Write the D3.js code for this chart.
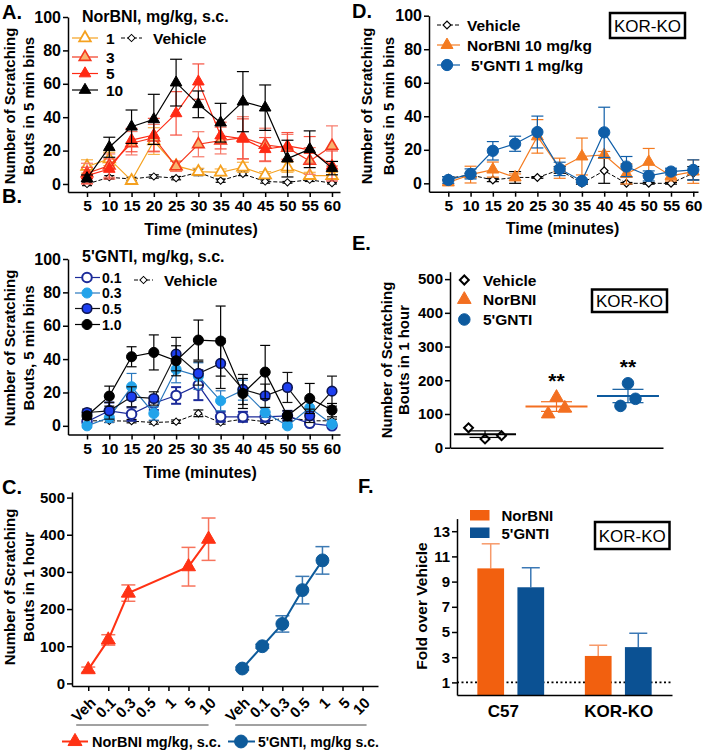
<!DOCTYPE html>
<html><head><meta charset="utf-8">
<script src="https://cdn.jsdelivr.net/npm/d3@7"></script>
<style>
body{margin:0;background:#fff}
</style></head><body>
<svg id="c" width="703" height="750" xmlns="http://www.w3.org/2000/svg"></svg>
<script>
// ---------------- DATA ----------------
const times=[5,10,15,20,25,30,35,40,45,50,55,60];
const yTicks100=[0,20,40,60,80,100];

// Panel A: NorBNI time course (mg/kg, s.c.)
const aVeh    =[0,4,3,4.5,3.5,7,2,6,1.5,1,2.5,0.5];
const aVehErr =[1,1,1,1,1,2,1,1,1,0.5,1,0.5];
const aNor1   =[10.5,15,2,25.7,10.8,7.4,7,10,5.4,10,5,5];
const aNor1Err=[4,4,1,8,3,2,2,3,2,3,2,2];
const aNor3   =[6.4,11,24.4,27.7,10.5,23.8,26,27.7,23.4,21.7,13.8,22.8];
const aNor3Err=[6,7,7,8,3,7.5,8,12.6,10,8,8,12];
const aNor5   =[5,9,26.3,29.3,42.3,61.3,29,27,20.8,22.8,20.4,10.8];
const aNor5Err=[5,6,7,10,13,10.6,8,12,7,8,8,9];
const aNor10  =[3.4,22,34.3,38.7,60.7,47.7,36.7,49.3,45.7,15.2,20.8,9.5];
const aNor10Err=[2,6,10,15,14,8,11.6,18,13.6,11,11,4];

// Panel B: 5'GNTI time course (mg/kg, s.c.)
const bVeh    =[3,3,2.8,2,2.5,7.5,2,4,2.5,5,3,3];
const bVehErr =[1,1,1,1,1,2,1,1,1,1,1,1];
const bG01    =[2.5,9,7,13.5,18.2,24.4,5.4,5.4,5.4,6,1.5,0];
const bG01Err =[2,5,4,4,5,9,3,3,3,3,1,1];
const bG03    =[0,5,23.4,7.4,33.8,29.8,15,21.4,8,0,10.8,1];
const bG03Err =[1,3,8,4,8,8,6,6,3,1,4,1];
const bG05    =[8,9,17.4,16.4,43,31.4,37.4,21.8,18,23,6,20.8];
const bG05Err =[2,5,6,4,10,7,15,9,7,9,4,9];
const bG10    =[6,17.8,41.4,44,39,51.4,50.8,19.4,32.2,6,16.4,9.4];
const bG10Err =[2,6,6,10.5,9,12,21,9,16,3,9,4];

// Panel C: total bouts in 1 hour, dose response
const cCats   =["Veh","0.1","0.3","0.5","1","5","10"];
const cNor    =[37,117,243,null,null,314,388];
const cNorErr =[7,14,22,null,null,52,57];
const cGnti   =[40,100,160,251,331,null,null];
const cGntiErr=[4,5,22,37,37,null,null];

// Panel D: KOR-KO time course
const dVeh    =[3,5,2,3.5,3.5,8,0,7.5,0,0,0,6];
const dVehErr =[1,1,1,3.5,0.5,2,0.5,7.5,0.5,0.5,0.5,4];
const dNor    =[0.5,5.2,8.2,3.6,28,9,16,17,5.6,12.8,4.4,7];
const dNorErr =[1,5,4.5,2,10,6,11,2,6,8,3,7];
const dGnti   =[2,5.6,19.4,23.6,30.6,8.6,1.4,30.4,10,4.4,7,8];
const dGntiErr=[2,3,5.5,4.5,9.5,4,1,15,6,3,2,6];

// Panel E: KOR-KO bouts in 1 hour (individual animals)
const eGroups =["Vehicle","NorBNI","5'GNTI"];
const eVeh    =[59,26,35.6];
const eNor    =[100,149,117];
const eGnti   =[124,191,145];
const eTicks  =[0,100,200,300,400,500];

// Panel F: fold over vehicle
const fGroups =["C57","KOR-KO"];
const fDrugs  =["NorBNI","5'GNTI"];
const fNor    =[10.05,3.1];
const fNorErr =[1.95,0.85];
const fGnti   =[8.55,3.8];
const fGntiErr=[1.55,1.1];
const fTicks  =[1,3,5,7,9,11,13];

// ---------------- DRAWING ----------------
const FONT='"Liberation Sans", Arial, Helvetica, sans-serif';
const svg=d3.select("#c");

function axisStyle(sel,fs){
  sel.attr("font-family",FONT).attr("font-size",fs).attr("font-weight","bold");
  sel.select(".domain").attr("stroke","#000").attr("stroke-width",1.5);
  sel.selectAll(".tick line").attr("stroke","#000").attr("stroke-width",1.5);
  sel.selectAll(".tick text").attr("fill","#000");
}
function text(g,x,y,s,o={}){
  return g.append("text").attr("x",x).attr("y",y).text(s)
    .attr("font-family",FONT).attr("font-size",o.fs||15).attr("font-weight",o.fw||"bold")
    .attr("text-anchor",o.anchor||"start").attr("dominant-baseline","central").attr("fill","#000");
}
function yTitle(g,bx1,bx2,yc,l1,l2,fs){
  const t=(bx,s)=>g.append("text").attr("transform",`translate(${bx},${yc}) rotate(-90)`).text(s)
    .attr("font-family",FONT).attr("font-size",fs).attr("font-weight","bold").attr("text-anchor","middle").attr("fill","#000");
  t(bx1,l1); if(l2) t(bx2,l2);
}
function symPath(st){
  const t={tri:d3.symbolTriangle,circle:d3.symbolCircle,diamond:d3.symbolSquare}[st.shape];
  return d3.symbol().type(t).size(st.size)();
}
function symbolAt(g,cx,cy,st){
  return g.append("path").attr("d",symPath(st))
    .attr("transform",`translate(${cx},${cy})${st.shape==='diamond'?' rotate(45)':''}`)
    .attr("fill",st.fill).attr("stroke",st.stroke).attr("stroke-width",st.sw||1);
}
function drawSeries(g,x,y,xs,vals,errs,st){
  const pts=xs.map((t,i)=>({t,v:vals[i],e:errs?errs[i]:null})).filter(d=>d.v!=null);
  const eg=g.append("g").attr("stroke",st.err||st.stroke).attr("stroke-width",st.ew||1.2).attr("fill","none");
  pts.forEach(d=>{
    if(d.e==null) return;
    const cx=x(d.t), y1=y(d.v-d.e), y2=y(d.v+d.e), c=st.cap||6;
    eg.append("line").attr("x1",cx).attr("x2",cx).attr("y1",y1).attr("y2",y2);
    eg.append("line").attr("x1",cx-c).attr("x2",cx+c).attr("y1",y2).attr("y2",y2);
    eg.append("line").attr("x1",cx-c).attr("x2",cx+c).attr("y1",y1).attr("y2",y1);
  });
  g.append("path").datum(pts).attr("d",d3.line().x(d=>x(d.t)).y(d=>y(d.v)))
    .attr("fill","none").attr("stroke",st.line||st.stroke).attr("stroke-width",st.lw||1.2)
    .attr("stroke-dasharray",st.dash||null);
  pts.forEach(d=>symbolAt(g,x(d.t),y(d.v),st));
}
function legendItem(g,cx,cy,x1,x2,st,label,tx,fs){
  if(x1!=null) g.append("line").attr("x1",x1).attr("x2",x2).attr("y1",cy).attr("y2",cy)
    .attr("stroke",st.line||st.stroke).attr("stroke-width",st.lw||1.2).attr("stroke-dasharray",st.dash||null);
  symbolAt(g,cx,cy,st);
  text(g,tx,cy,label,{fs:fs||15.5});
}
function korBox(g,x,y,w,h){
  g.append("rect").attr("x",x).attr("y",y).attr("width",w).attr("height",h)
    .attr("fill","#fff").attr("stroke","#000").attr("stroke-width",2.5);
  text(g,x+w/2,y+h/2+0.5,"KOR-KO",{fs:17,fw:"normal",anchor:"middle"});
}
function timeAxes(g,x,y,ax,ay){
  g.append("g").attr("transform",`translate(0,${ay})`)
    .call(d3.axisBottom(x).tickValues(times).tickSize(5).tickPadding(3).tickSizeOuter(0)).call(axisStyle,15.5);
  g.append("g").attr("transform",`translate(${ax},0)`)
    .call(d3.axisLeft(y).tickValues(yTicks100).tickSize(5).tickPadding(2).tickSizeOuter(0)).call(axisStyle,16);
}

// styles
const stVeh ={shape:'diamond',size:26,fill:'#fff',stroke:'#000',sw:1,line:'#000',lw:1,dash:'4,2',err:'#000',cap:5};
const stA1  ={shape:'tri',size:58,fill:'#fff',stroke:'#f5a11f',sw:1.8,line:'#f5a11f',err:'#f7b24a',cap:6};
const stA3  ={shape:'tri',size:58,fill:'#f9b36e',stroke:'#f4381f',sw:1.6,line:'#f4381f',err:'#f77a6a',cap:6};
const stA5  ={shape:'tri',size:58,fill:'#ff2a14',stroke:'#ff2a14',sw:1,line:'#ff2a14',err:'#f65040',cap:6};
const stA10 ={shape:'tri',size:58,fill:'#000',stroke:'#000',sw:1,line:'#000',err:'#000',cap:6};

const stB01 ={shape:'circle',size:72,fill:'#fff',stroke:'#1c2b9a',sw:2,line:'#1c2b9a',err:'#1c2b9a',ew:2,cap:5};
const stB03 ={shape:'circle',size:80,fill:'#22a3ea',stroke:'#22a3ea',sw:1,line:'#2a78be',err:'#2a78be',cap:5};
const stB05 ={shape:'circle',size:72,fill:'#1d3ff0',stroke:'#0b1450',sw:1.6,line:'#111',err:'#111',cap:5};
const stB10 ={shape:'circle',size:80,fill:'#000',stroke:'#000',sw:1,line:'#000',err:'#000',cap:5};

const stDNor ={shape:'tri',size:62,fill:'#f47b20',stroke:'#f47b20',sw:1,line:'#f47b20',err:'#f47b20',cap:6};
const stDGnti={shape:'circle',size:100,fill:'#0f5ea8',stroke:'#0f5ea8',sw:1,line:'#0f5ea8',err:'#0f5ea8',cap:6};
const stDVeh ={shape:'diamond',size:30,fill:'#fff',stroke:'#000',sw:1.2,line:'#000',lw:1,dash:'4,2',err:'#000',cap:6};

// ===== Panel A =====
{
  const g=svg.append("g");
  const x=d3.scaleLinear().domain([0.73,61.8]).range([68,340]);
  const y=d3.scaleLinear().domain([-4.8,100]).range([192,17]);
  timeAxes(g,x,y,68,192);
  drawSeries(g,x,y,times,aVeh,aVehErr,stVeh);
  drawSeries(g,x,y,times,aNor1,aNor1Err,stA1);
  drawSeries(g,x,y,times,aNor3,aNor3Err,stA3);
  drawSeries(g,x,y,times,aNor5,aNor5Err,stA5);
  drawSeries(g,x,y,times,aNor10,aNor10Err,stA10);
  text(g,2,12,"A.",{fs:20});
  text(g,82,16,"NorBNI, mg/kg, s.c.",{fs:16});
  legendItem(g,85,38,72,98,stA1,"1",106);
  legendItem(g,85,57,72,98,stA3,"3",106);
  legendItem(g,85,73.5,72,98,stA5,"5",106);
  legendItem(g,85,90,72,98,stA10,"10",106);
  legendItem(g,131.5,38,121,142,stVeh,"Vehicle",153);
  text(g,201,229,"Time (minutes)",{fs:16,anchor:"middle"});
  yTitle(g,14.5,33.5,106,"Number of Scratching","Bouts in 5 min bins",15);
}
// ===== Panel B =====
{
  const g=svg.append("g");
  const x=d3.scaleLinear().domain([0.73,61.8]).range([68,340]);
  const y=d3.scaleLinear().domain([-5.2,100]).range([434.5,259]);
  timeAxes(g,x,y,68,434.5);
  drawSeries(g,x,y,times,bVeh,bVehErr,stVeh);
  drawSeries(g,x,y,times,bG01,bG01Err,stB01);
  drawSeries(g,x,y,times,bG03,bG03Err,stB03);
  drawSeries(g,x,y,times,bG05,bG05Err,stB05);
  drawSeries(g,x,y,times,bG10,bG10Err,stB10);
  text(g,2,195.5,"B.",{fs:20});
  text(g,82,256,"5'GNTI, mg/kg, s.c.",{fs:16});
  legendItem(g,87,277.5,75,100,stB01,"0.1",102,14);
  legendItem(g,87,293,75,100,stB03,"0.3",102,14);
  legendItem(g,87,308.5,75,100,stB05,"0.5",102,14);
  legendItem(g,87,324.5,75,100,stB10,"1.0",102,14);
  legendItem(g,143.5,280,134,153,stVeh,"Vehicle",164);
  text(g,200,472,"Time (minutes)",{fs:16,anchor:"middle"});
  yTitle(g,14.5,33.5,348,"Number of Scratching","Bouts, 5 min bins",15);
}
// ===== Panel C =====
{
  const g=svg.append("g");
  const GAP=7.68;
  const x=d3.scaleLinear().domain([-0.81,14.45]).range([72,378]);
  const y=d3.scaleLinear().domain([-7,515]).range([686,492]);
  const idx1=cCats.map((c,i)=>i), idx2=cCats.map((c,i)=>GAP+i);
  const ax=g.append("g").attr("transform","translate(0,686)")
    .call(d3.axisBottom(x).tickValues(idx1.concat(idx2)).tickFormat((d,i)=>cCats[i%cCats.length]).tickSize(5).tickSizeOuter(0))
    .call(axisStyle,15);
  ax.selectAll(".tick text").attr("y",0).attr("dy",null).attr("text-anchor","end")
    .attr("dominant-baseline","central").attr("transform","translate(4,14) rotate(-45)");
  g.append("g").attr("transform","translate(72,0)")
    .call(d3.axisLeft(y).tickValues([0,100,200,300,400,500]).tickSize(5).tickPadding(2).tickSizeOuter(0))
    .call(axisStyle,15);
  const stCNor ={shape:'tri',size:85,fill:'#ff3214',stroke:'#ff3214',sw:1,line:'#ff3214',lw:2,err:'#f7735c',ew:1.5,cap:7};
  const stCGnti={shape:'circle',size:130,fill:'#0e5b9b',stroke:'#0e5b9b',sw:1,line:'#0e5b9b',lw:2,err:'#3d7ab3',ew:1.5,cap:7};
  drawSeries(g,x,y,idx1,cNor,cNorErr,stCNor);
  drawSeries(g,x,y,idx2,cGnti,cGntiErr,stCGnti);
  g.append("line").attr("x1",x(-0.6)).attr("x2",x(6)).attr("y1",725).attr("y2",725).attr("stroke","#444").attr("stroke-width",1);
  g.append("line").attr("x1",x(GAP-0.35)).attr("x2",x(GAP+6.2)).attr("y1",725).attr("y2",725).attr("stroke","#444").attr("stroke-width",1);
  legendItem(g,75,741.5,62,88,stCNor,"NorBNI mg/kg, s.c.",92,14.5);
  legendItem(g,241,741.5,228,255,stCGnti,"5'GNTI, mg/kg s.c.",258,14);
  text(g,2,487,"C.",{fs:20});
  yTitle(g,14.5,33.5,587,"Number of Scratching","Bouts in 1 hour",15);
}
// ===== Panel D =====
{
  const g=svg.append("g");
  const x=d3.scaleLinear().domain([0.667,61.06]).range([429,698]);
  const y=d3.scaleLinear().domain([-5,100]).range([191.7,15.7]);
  timeAxes(g,x,y,429,191.7);
  drawSeries(g,x,y,times,dVeh,dVehErr,stDVeh);
  drawSeries(g,x,y,times,dNor,dNorErr,stDNor);
  drawSeries(g,x,y,times,dGnti,dGntiErr,stDGnti);
  text(g,352,11,"D.",{fs:20});
  legendItem(g,447,25,437,460,stDVeh,"Vehicle",467);
  legendItem(g,447,45,437,460,stDNor,"NorBNI 10 mg/kg",467);
  legendItem(g,447,65,437,460,stDGnti,"5'GNTI 1 mg/kg",471);
  korBox(g,610,13,75,25);
  text(g,562.5,228,"Time (minutes)",{fs:16,anchor:"middle"});
  yTitle(g,371.5,393.5,106,"Number of Scratching","Bouts in 5 min bins",15);
}
// ===== Panel E =====
{
  const g=svg.append("g");
  const x=d3.scalePoint().domain(eGroups).range([450,663]).padding(0.49);
  const y=d3.scaleLinear().domain([0,522]).range([447.7,271.7]);
  g.append("g").attr("transform","translate(0,447.7)")
    .call(d3.axisBottom(x).tickSize(0).tickFormat("").tickSizeOuter(0)).call(axisStyle,15);
  g.append("g").attr("transform","translate(450,0)")
    .call(d3.axisLeft(y).tickValues(eTicks).tickSize(5).tickPadding(2).tickSizeOuter(0)).call(axisStyle,15);
  const sets=[eVeh,eNor,eGnti];
  const cols=['#000','#f36f21','#0d5a9e'];
  const sts=[
    {shape:'diamond',size:40,fill:'#fff',stroke:'#000',sw:2},
    {shape:'tri',size:80,fill:'#f36f21',stroke:'#f36f21',sw:1},
    {shape:'circle',size:105,fill:'#0d5a9e',stroke:'#0d5a9e',sw:1}];
  const spread=[16.5,8.3,7.5];
  eGroups.forEach((grp,k)=>{
    const vals=sets[k], m=d3.mean(vals), sem=d3.deviation(vals)/Math.sqrt(vals.length);
    const cx=x(grp), c=cols[k];
    vals.forEach((v,i)=>symbolAt(g,cx+(i-1)*spread[k],y(v),sts[k]));
    g.append("line").attr("x1",cx-31).attr("x2",cx+31).attr("y1",y(m)).attr("y2",y(m)).attr("stroke",c).attr("stroke-width",2);
    g.append("line").attr("x1",cx).attr("x2",cx).attr("y1",y(m-sem)).attr("y2",y(m+sem)).attr("stroke",c).attr("stroke-width",1.2);
    [m-sem,m+sem].forEach(v=>g.append("line").attr("x1",cx-15.5).attr("x2",cx+15.5).attr("y1",y(v)).attr("y2",y(v)).attr("stroke",c).attr("stroke-width",1.2));
    if(k>0) text(g,cx,y(d3.max(vals))-17,"**",{fs:21,anchor:"middle"});
  });
  text(g,352,242.5,"E.",{fs:20});
  legendItem(g,464.3,280,null,null,sts[0],"Vehicle",483);
  legendItem(g,464.3,299.5,null,null,sts[1],"NorBNI",483);
  legendItem(g,464.3,319.5,null,null,sts[2],"5'GNTI",483);
  korBox(g,592,289.5,75,22.5);
  yTitle(g,392,409,360,"Number of Scratching","Bouts in 1 hour",15);
}
// ===== Panel F =====
{
  const g=svg.append("g");
  const x=d3.scalePoint().domain(fGroups).range([457,672]).padding(0.5);
  const xi=d3.scaleBand().domain(fDrugs).range([-33.4,33.4]).paddingInner(0.333);
  const y=d3.scaleLinear().domain([0,14]).range([695,518.6]);
  g.append("line").attr("x1",457).attr("x2",672).attr("y1",y(1)).attr("y2",y(1))
    .attr("stroke","#000").attr("stroke-width",1.6).attr("stroke-dasharray","2,2.5");
  const series=[{v:fNor,e:fNorErr,c:'#f2600f',ec:'#f79a6a'},{v:fGnti,e:fGntiErr,c:'#0b5193',ec:'#3b78b5'}];
  series.forEach((s,k)=>{
    fGroups.forEach((grp,j)=>{
      const bx=x(grp)+xi(fDrugs[k]), bw=xi.bandwidth(), cx=bx+bw/2;
      const top=y(s.v[j]), et=y(s.v[j]+s.e[j]);
      g.append("line").attr("x1",cx).attr("x2",cx).attr("y1",top).attr("y2",et).attr("stroke",s.ec).attr("stroke-width",1.5);
      g.append("line").attr("x1",cx-9).attr("x2",cx+9).attr("y1",et).attr("y2",et).attr("stroke",s.ec).attr("stroke-width",1.5);
      g.append("rect").attr("x",bx).attr("y",top).attr("width",bw).attr("height",y(0)-top).attr("fill",s.c);
    });
  });
  const xa=g.append("g").attr("transform","translate(0,695)")
    .call(d3.axisBottom(x).tickSize(0).tickPadding(10).tickSizeOuter(0)).call(axisStyle,17);
  xa.selectAll(".tick text").attr("dx",(d,i)=>i===0?-8:0);
  g.append("g").attr("transform","translate(457,0)")
    .call(d3.axisLeft(y).tickValues(fTicks).tickSize(5).tickPadding(2).tickSizeOuter(0)).call(axisStyle,15);
  g.append("rect").attr("x",470).attr("y",510).attr("width",19.5).attr("height",10.5).attr("fill",'#f2600f');
  g.append("rect").attr("x",470).attr("y",527.5).attr("width",19.5).attr("height",10.5).attr("fill",'#0b5193');
  text(g,501.5,515.5,"NorBNI",{fs:15});
  text(g,501.5,533,"5'GNTI",{fs:15});
  korBox(g,595,522,74.5,27);
  text(g,358,486,"F.",{fs:20});
  yTitle(g,427,null,606,"Fold over Vehicle",null,15.5);
}
</script>
</body></html>
